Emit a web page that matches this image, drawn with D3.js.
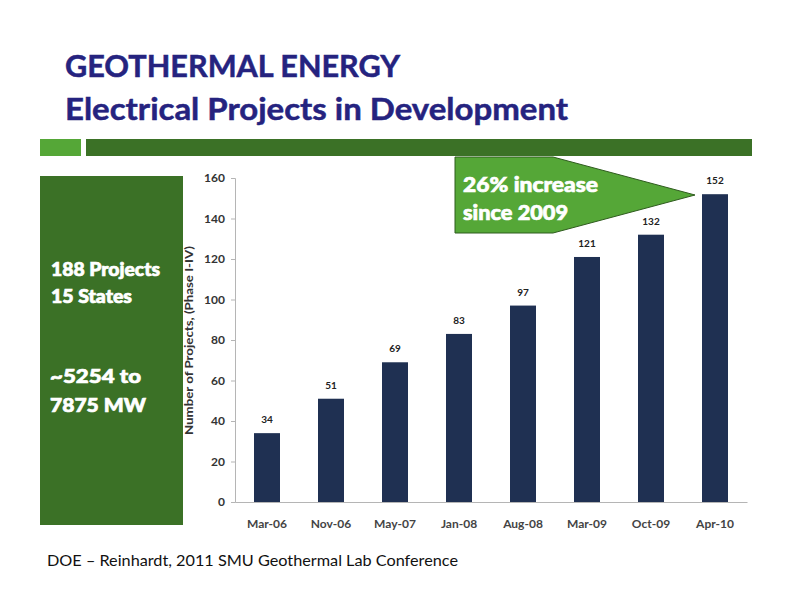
<!DOCTYPE html>
<html>
<head>
<meta charset="utf-8">
<script src="https://cdn.jsdelivr.net/npm/d3@7"></script>
<style>
html, body { margin: 0; padding: 0; background: #fff; }
text { font-family: Lato, "Open Sans", sans-serif; }
</style>
</head>
<body>
<div id="slide"></div>
<script>
var categories = ["Mar-06", "Nov-06", "May-07", "Jan-08", "Aug-08", "Mar-09", "Oct-09", "Apr-10"];
var projects = [34, 51, 69, 83, 97, 121, 132, 152];
var yTicks = [0, 20, 40, 60, 80, 100, 120, 140, 160];
var titleLines = ["GEOTHERMAL ENERGY", "Electrical Projects in Development"];
var sideLines = ["188 Projects", "15 States", "~5254 to", "7875 MW"];
var calloutLines = ["26% increase", "since 2009"];

var width = 792, height = 612;
var darkGreen = "#3b7126", lightGreen = "#55a737", navy = "#1f3052", titleBlue = "#25237f";

var svg = d3.select("#slide").append("svg")
	.attr("width", width)
	.attr("height", height)
	.style("display", "block");

// title
svg.selectAll(".title")
	.data(titleLines)
	.enter().append("text")
		.attr("class", "title")
		.attr("x", 65)
		.attr("y", (d, i) => 77 + i * 42.5)
		.attr("fill", titleBlue)
		.attr("stroke", titleBlue)
		.attr("stroke-width", 0.5)
		.attr("font-size", 31)
		.attr("font-weight", 700)
		.attr("textLength", (d, i) => i == 0 ? 335 : 503)
		.attr("lengthAdjust", "spacingAndGlyphs")
		.text(d => d);

// header bars
svg.append("rect").attr("x", 40).attr("y", 139).attr("width", 41).attr("height", 17).attr("fill", lightGreen);
svg.append("rect").attr("x", 86).attr("y", 139).attr("width", 666).attr("height", 17).attr("fill", darkGreen);

// side panel
svg.append("rect").attr("x", 40).attr("y", 176).attr("width", 143).attr("height", 349).attr("fill", darkGreen);
svg.selectAll(".side")
	.data(sideLines)
	.enter().append("text")
		.attr("class", "side")
		.attr("x", (d, i) => i > 1 ? 50 : 51)
		.attr("y", (d, i) => [276, 303, 383, 412][i])
		.attr("fill", "#fff")
		.attr("stroke", "#fff")
		.attr("stroke-width", 0.7)
		.attr("font-size", (d, i) => i > 1 ? 19.5 : 18)
		.attr("font-weight", 900)
		.attr("textLength", (d, i) => [109, 81, 91, 96][i])
		.attr("lengthAdjust", "spacingAndGlyphs")
		.text(d => d);

// chart
var x = d3.scaleBand()
	.domain(categories)
	.range([235, 747])
	.paddingInner(0.594)
	.paddingOuter(0.297);

var y = d3.scaleLinear()
	.domain([0, 160])
	.range([502, 178]);

var yAxis = svg.append("g")
	.attr("transform", "translate(235,0)")
	.call(d3.axisLeft(y).tickValues(yTicks).tickSize(4).tickPadding(6));
yAxis.selectAll("path, line").attr("stroke", "#b5b5b5");
yAxis.selectAll("text")
	.attr("fill", "#333")
	.attr("font-size", 12)
	.attr("font-weight", 700)
	.style("font-family", "Lato, sans-serif");

var xAxis = svg.append("g")
	.attr("transform", "translate(0,502)")
	.call(d3.axisBottom(x).tickSize(0).tickPadding(17));
xAxis.select("path").attr("stroke", "#b5b5b5");
xAxis.selectAll("text")
	.attr("fill", "#444")
	.attr("font-size", 12)
	.attr("font-weight", 700)
	.style("font-family", "Lato, sans-serif");

svg.selectAll(".bar")
	.data(projects)
	.enter().append("rect")
		.attr("class", "bar")
		.attr("x", (d, i) => x(categories[i]))
		.attr("y", d => y(d))
		.attr("width", x.bandwidth())
		.attr("height", d => y(0) - y(d))
		.attr("fill", navy);

svg.selectAll(".val")
	.data(projects)
	.enter().append("text")
		.attr("class", "val")
		.attr("x", (d, i) => x(categories[i]) + x.bandwidth() / 2)
		.attr("y", d => y(d) - 10)
		.attr("text-anchor", "middle")
		.attr("fill", "#222")
		.attr("font-size", 10)
		.attr("font-weight", 700)
		.text(d => d);

svg.append("text")
	.attr("transform", "translate(193,435) rotate(-90)")
	.attr("fill", "#333")
	.attr("font-size", 12)
	.attr("font-weight", 700)
	.attr("textLength", 189)
	.attr("lengthAdjust", "spacingAndGlyphs")
	.text("Number of Projects, (Phase I-IV)");

// callout arrow
svg.append("path")
	.attr("d", d3.line()([[455, 157], [553, 157], [695, 195], [553, 233], [455, 233]]) + "Z")
	.attr("fill", lightGreen)
	.attr("stroke", "#2f5c1e")
	.attr("stroke-width", 1);

svg.selectAll(".callout")
	.data(calloutLines)
	.enter().append("text")
		.attr("class", "callout")
		.attr("x", 463)
		.attr("y", (d, i) => 192 + i * 28)
		.attr("fill", "#fff")
		.attr("stroke", "#fff")
		.attr("stroke-width", 0.7)
		.attr("font-size", 20.5)
		.attr("font-weight", 900)
		.attr("textLength", (d, i) => i == 0 ? 135 : 105)
		.attr("lengthAdjust", "spacingAndGlyphs")
		.text(d => d);

// source
svg.append("text")
	.attr("x", 47)
	.attr("y", 566)
	.attr("fill", "#111")
	.attr("font-size", 15)
	.attr("textLength", 411)
	.attr("lengthAdjust", "spacingAndGlyphs")
	.text("DOE – Reinhardt, 2011 SMU Geothermal Lab Conference");
</script>
</body>
</html>
